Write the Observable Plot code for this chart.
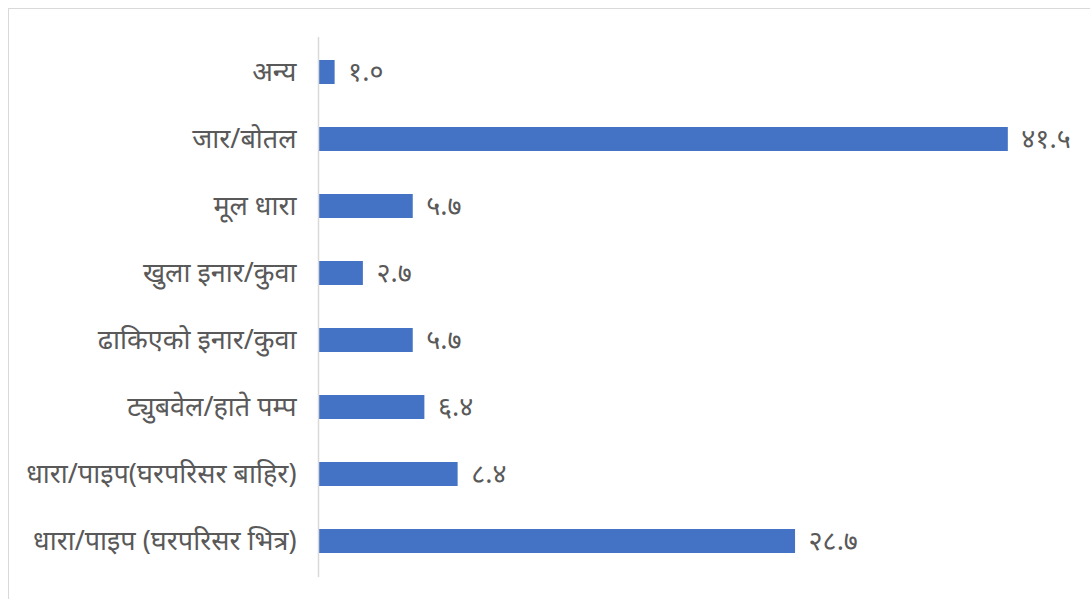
<!DOCTYPE html>
<html>
<head>
<meta charset="utf-8">
<script src="https://cdn.jsdelivr.net/npm/d3@7"></script>
<script src="https://cdn.jsdelivr.net/npm/@observablehq/plot@0.6"></script>
<style>
  html, body { margin: 0; padding: 0; background: #fff; overflow: hidden; }
  #frame { position: absolute; left: 8px; top: 8px; width: 1090px; height: 620px; border: 1.5px solid #d9d9d9; box-sizing: border-box; }
  #chart { position: absolute; left: 0; top: 0; }
</style>
</head>
<body>
<div id="frame"></div>
<div id="chart"></div>
<script>
const categories = [
  "अन्य",
  "जार/बोतल",
  "मूल धारा",
  "खुला इनार/कुवा",
  "ढाकिएको इनार/कुवा",
  "ट्युबवेल/हाते पम्प",
  "धारा/पाइप(घरपरिसर बाहिर)",
  "धारा/पाइप (घरपरिसर भित्र)"
];
const values = [1.0, 41.5, 5.7, 2.7, 5.7, 6.4, 8.4, 28.7];
const valueLabels = ["१.०", "४१.५", "५.७", "२.७", "५.७", "६.४", "८.४", "२८.७"];

const data = categories.map((c, i) => ({category: c, value: values[i], label: valueLabels[i]}));

const chart = Plot.plot({
  width: 1090,
  height: 599,
  marginLeft: 318,
  marginRight: 24,
  marginTop: 37,
  marginBottom: 22,
  style: {fontFamily: "'Noto Sans', 'Noto Sans Devanagari', sans-serif", fontSize: "27px", color: "#595959", background: "transparent"},
  x: {domain: [0, 45], axis: null},
  y: {domain: categories, paddingInner: 0.64, paddingOuter: 0.32, label: null, tickSize: 0, tickPadding: 22},
  marks: [
    Plot.barX(data, {x: "value", y: "category", fill: "#4472C4"}),
    Plot.ruleX([0], {stroke: "#d9d9d9", strokeWidth: 1.5}),
    Plot.text(data, {x: "value", y: "category", text: "label", textAnchor: "start", dx: 13, fill: "#595959", fontSize: 27})
  ]
});
chart.querySelectorAll("[aria-label='y-axis tick label'] text").forEach(t => t.setAttribute("fill", "#595959"));
document.getElementById("chart").appendChild(chart);
</script>
</body>
</html>
